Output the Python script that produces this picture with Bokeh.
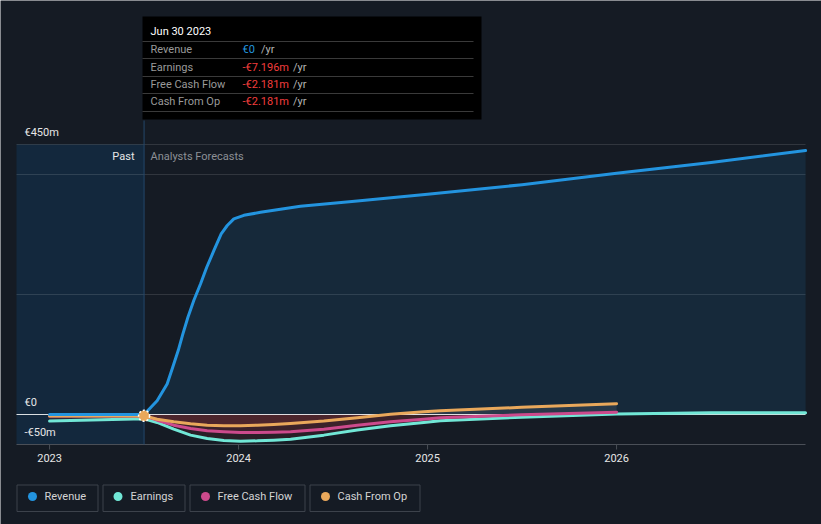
from bokeh.plotting import figure
from bokeh.models import Range1d
from bokeh.core.properties import value
from bokeh.embed import file_html
from bokeh.resources import INLINE
import numpy as np

# ---------------- data (values in € millions) ----------------
series_names = ["Revenue", "Earnings", "Free Cash Flow", "Cash From Op"]
series_colors = ["#2394df", "#71e7d6", "#cc4a8c", "#e9a85b"]

rev_x = [2023.0, 2023.5, 2023.569, 2023.622, 2023.652, 2023.681, 2023.705, 2023.732,
         2023.763, 2023.799, 2023.831, 2023.869, 2023.908, 2023.940, 2023.975, 2024.028,
         2024.116, 2024.327, 2024.6, 2025.0, 2025.5, 2026.0, 2026.5, 2027.0]
rev_y = [0, 0, 23, 51, 79, 107, 134, 162, 190, 218, 245, 273, 301, 315, 326, 332,
         337, 347, 355, 367, 383, 402, 420, 440]

earn_x = [2023.0, 2023.5, 2023.569, 2023.657, 2023.746, 2023.834, 2023.922, 2024.010,
          2024.099, 2024.186, 2024.275, 2024.451, 2024.628, 2024.804, 2024.980, 2025.068,
          2025.497, 2026.0, 2026.5, 2027.0]
earn_y = [-11, -7.196, -13.3, -24.4, -34.4, -40, -43.3, -44.4, -43.9, -42.8, -41.1,
          -34.4, -26, -18.9, -13.3, -10.6, -4.4, 1, 2.8, 2.8]

fcf_x = [2023.0, 2023.5, 2023.569, 2023.657, 2023.746, 2023.834, 2023.922, 2024.010,
         2024.099, 2024.186, 2024.275, 2024.451, 2024.628, 2024.804, 2024.980, 2025.068,
         2025.497, 2026.0]
fcf_y = [-2.5, -2.181, -9.5, -17.8, -23.3, -27.2, -28.9, -30, -30, -29.4, -28.9, -24.4,
         -17.8, -12.2, -7.8, -5.5, -0.5, 3.9]

cfo_x = [2023.0, 2023.5, 2023.569, 2023.657, 2023.746, 2023.834, 2023.922, 2024.010,
         2024.099, 2024.186, 2024.275, 2024.451, 2024.628, 2024.804, 2024.980, 2025.068,
         2025.497, 2026.0]
cfo_y = [-2.5, -2.181, -7.8, -12.2, -15.5, -17.8, -18.8, -18.8, -17.8, -16.7, -15, -11,
         -5.5, 0.3, 4.4, 6.1, 12, 18]

x_ticks = [2023, 2024, 2025, 2026]
x_tick_labels = ["2023", "2024", "2025", "2026"]
y_label_vals = [450, 0, -50]
y_labels = ["€450m", "€0", "-€50m"]
grid_vals = [450, 400, 200]
y_bottom = -50
past_end = 2023.5

tooltip_title = "Jun 30 2023"
tooltip_values = ["€0", "-€7.196m", "-€2.181m", "-€2.181m"]
tooltip_value_colors = ["#2394df", "#f23d3d", "#f23d3d", "#f23d3d"]

# ---------------- pixel <-> data helpers (layout only) ----------------
W, H = 821, 524
PX_PER_YEAR = 189.0
X_LEFT = 2022.825       # data x at plot-area left edge (px 16)
PX_PER_M = 0.6
ZERO_PY = 414.0


def X(px):
    return X_LEFT + (px - 16) / PX_PER_YEAR


def Y(py):
    return (ZERO_PY - py) / PX_PER_M


FONT = value("Roboto")
BG = "#151b24"

p = figure(width=W, height=H, output_backend="svg", toolbar_location=None,
           x_range=Range1d(X(0), X(W)), y_range=Range1d(Y(H), Y(0)),
           min_border=0, min_border_left=0, min_border_right=0,
           min_border_top=0, min_border_bottom=0)
p.axis.visible = False
p.grid.visible = False
p.outline_line_color = None
p.background_fill_color = BG
p.border_fill_color = BG

xl, xr = X(16), X(805)

# past region
p.quad(left=[xl], right=[past_end], bottom=[y_bottom], top=[grid_vals[0]],
       fill_color="#13283d", line_color=None)

# gridlines
p.segment(x0=[xl] * len(grid_vals), x1=[xr] * len(grid_vals), y0=grid_vals, y1=grid_vals,
          line_color="#ffffff", line_alpha=0.12, line_width=1)
p.segment(x0=[xl], x1=[xr], y0=[y_bottom], y1=[y_bottom], line_color="#4a4f57", line_width=1)
p.segment(x0=x_ticks, x1=x_ticks, y0=[y_bottom] * len(x_ticks), y1=[Y(449)] * len(x_ticks),
          line_color="#4a4f57", line_width=1)

# hover line
p.segment(x0=[past_end], x1=[past_end], y0=[y_bottom], y1=[Y(120)],
          line_color="#24486a", line_width=1)

# revenue area
rx = np.array(rev_x)
ry = np.array(rev_y, dtype=float)
p.varea(x=rx, y1=np.zeros_like(ry), y2=ry, fill_color="#2394df", fill_alpha=0.12)

# other series areas (negative red, positive light)
for xs, ys in [(earn_x, earn_y), (fcf_x, fcf_y), (cfo_x, cfo_y)]:
    xa = np.array(xs)
    ya = np.array(ys, dtype=float)
    p.varea(x=xa, y1=np.minimum(ya, 0), y2=np.zeros_like(ya), fill_color="#e64545", fill_alpha=0.1)
    p.varea(x=xa, y1=np.zeros_like(ya), y2=np.maximum(ya, 0), fill_color="#ffffff", fill_alpha=0.08)

# zero line
p.segment(x0=[xl], x1=[xr], y0=[0], y1=[0], line_color="#ffffff", line_alpha=0.85, line_width=1)

# series lines
for xs, ys, c in [(earn_x, earn_y, series_colors[1]), (fcf_x, fcf_y, series_colors[2]),
                  (cfo_x, cfo_y, series_colors[3]), (rev_x, rev_y, series_colors[0])]:
    p.line(xs, ys, line_color=c, line_width=3, line_join="round", line_cap="round")

# hover marker
p.scatter(x=[past_end], y=[cfo_y[1]], size=11, fill_color=series_colors[3],
          line_color="#ffffff", line_width=1.5, line_dash="2 2")

# y labels
p.text(x=[X(24)] * len(y_label_vals), y=[v + 12 / PX_PER_M for v in y_label_vals], text=y_labels,
       text_font=FONT, text_font_size="11px", text_color="#e6e6e6",
       text_baseline="middle", text_align="left")

# x labels
p.text(x=x_ticks, y=[Y(457)] * len(x_ticks), text=x_tick_labels,
       text_font=FONT, text_font_size="11px", text_color="#e6e6e6",
       text_baseline="middle", text_align="center")

# Past / Analysts Forecasts
p.text(x=[X(134)], y=[Y(156)], text=["Past"], text_font=FONT, text_font_size="11px",
       text_color="#e6e6e6", text_baseline="middle", text_align="right")
p.text(x=[X(150)], y=[Y(156)], text=["Analysts Forecasts"], text_font=FONT, text_font_size="11px",
       text_color="#8c9096", text_baseline="middle", text_align="left")

# tooltip
p.quad(left=[X(142)], right=[X(481)], top=[Y(16)], bottom=[Y(119)], fill_color="#000000",
       line_color=None)
p.text(x=[X(150)], y=[Y(31)], text=[tooltip_title], text_font=FONT, text_font_size="11px",
       text_color="#ffffff", text_baseline="middle", text_align="left")
sep_py = [41, 58, 76, 93, 111]
p.segment(x0=[X(142)] * 5, x1=[X(473)] * 5, y0=[Y(v) for v in sep_py], y1=[Y(v) for v in sep_py],
          line_color="#3a3a3a", line_width=1)
row_py = [49, 66.5, 84, 101]
p.text(x=[X(150)] * 4, y=[Y(v) for v in row_py], text=series_names, text_font=FONT,
       text_font_size="11px", text_color="#9a9a9a", text_baseline="middle", text_align="left")
p.text(x=[X(242)] * 4, y=[Y(v) for v in row_py], text=tooltip_values, text_font=FONT,
       text_font_size="11px", text_color=tooltip_value_colors, text_baseline="middle",
       text_align="left")
yr_px = [260.5, 292.5, 292.5, 292.5]
p.text(x=[X(v) for v in yr_px], y=[Y(v) for v in row_py], text=["/yr"] * 4, text_font=FONT,
       text_font_size="11px", text_color="#b4b4b4", text_baseline="middle", text_align="left")

# legend
box_l = [16.5, 102.5, 189.5, 309.5]
box_r = [97.5, 184.5, 304.5, 419.5]
dot_px = [32, 117.5, 205, 325]
txt_px = [44, 130, 217, 337]
p.quad(left=[X(v) for v in box_l], right=[X(v) for v in box_r], top=[Y(484.5)] * 4,
       bottom=[Y(511)] * 4, fill_color=None, line_color="#3c424b", line_width=1)
p.scatter(x=[X(v) for v in dot_px], y=[Y(496)] * 4, size=9, fill_color=series_colors,
          line_color=None)
p.text(x=[X(v) for v in txt_px], y=[Y(496)] * 4, text=series_names, text_font=FONT,
       text_font_size="11px", text_color="#d4d4d4", text_baseline="middle", text_align="left")

open("out.html", "w").write(file_html(p, INLINE))
